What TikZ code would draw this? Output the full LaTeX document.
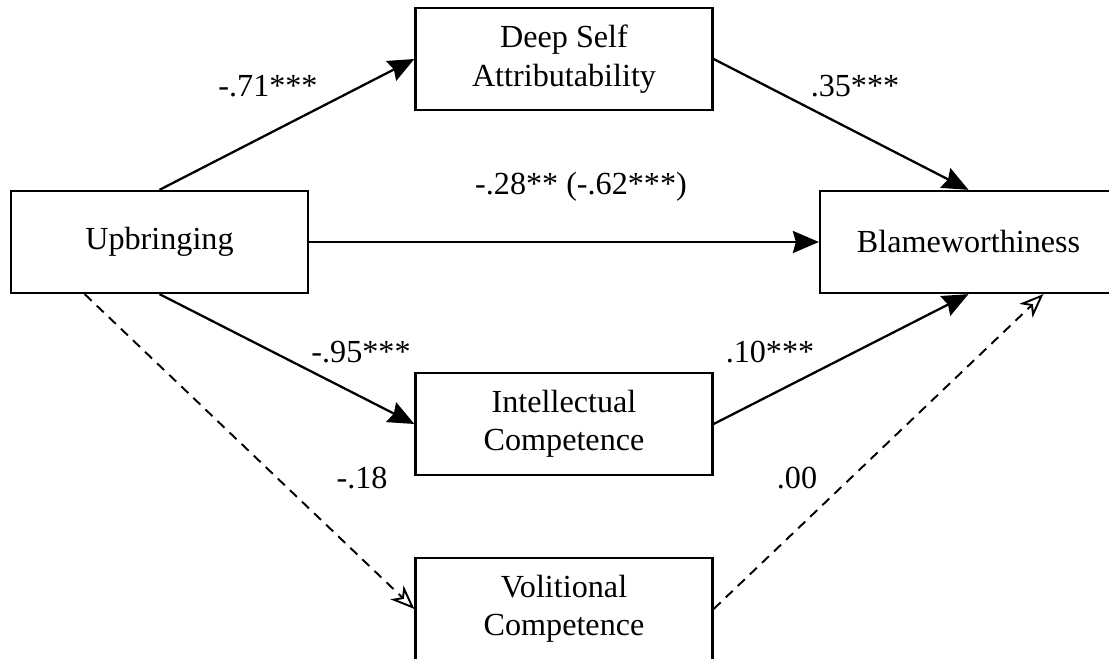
\documentclass[tikz,border=0pt]{standalone}
\usepackage{fontspec}
\setmainfont{Liberation Serif}
\usetikzlibrary{arrows.meta,calc}

\begin{document}
\begin{tikzpicture}[
    every node/.style={font=\fontsize{18.3}{21.8}\selectfont},
    box/.style={draw, line width=1.3pt, minimum width=5.94cm, minimum height=2.04cm, align=center},
    sigarrow/.style={-{Stealth[length=0.52cm,width=0.44cm,inset=0.06cm]}, line width=1.3pt},
    nsarrow/.style={-{Stealth[open,length=0.48cm,width=0.38cm,inset=0.14cm]}, line width=1.1pt, dash pattern=on 5.5pt off 4pt}
  ]
  \useasboundingbox (0, 0) rectangle (22.18, 13.16);

  \node[box] (up) at (3.19, 8.32) {Upbringing};
  \node[box] (deep) at (11.28, 11.98) {Deep Self\\Attributability};
  \node[box] (blame) at (19.37, 8.32) {Blameworthiness};
  \node[box] (intel) at (11.28, 4.68) {Intellectual\\Competence};
  \node[box] (vol) at (11.28, 0.98) {Volitional\\Competence};

  \coordinate (upsw) at ($(up.south west)!0.25!(up.south east)$);
  \coordinate (blamese) at ($(blame.south west)!0.75!(blame.south east)$);

  \draw[sigarrow] (up.north) -- (deep.west);
  \draw[sigarrow] (deep.east) -- (blame.north);
  \draw[sigarrow] (up.east) -- (blame.west);
  \draw[sigarrow] (up.south) -- (intel.west);
  \draw[sigarrow] (intel.east) -- (blame.south);
  \draw[nsarrow] (upsw) -- (vol.west);
  \draw[nsarrow] (vol.east) -- (blamese);

  \node (a1) at (5.36, 11.44) {-.71***};
  \node (b1) at (17.1, 11.44) {.35***};
  \node (c1) at (11.62, 9.42) {-.28** (-.62***)};
  \node (a2) at (7.22, 6.12) {-.95***};
  \node (b2) at (15.4, 6.12) {.10***};
  \node (a3) at (7.24, 3.6) {-.18};
  \node (b3) at (15.94, 3.6) {.00};
\end{tikzpicture}
\end{document}
